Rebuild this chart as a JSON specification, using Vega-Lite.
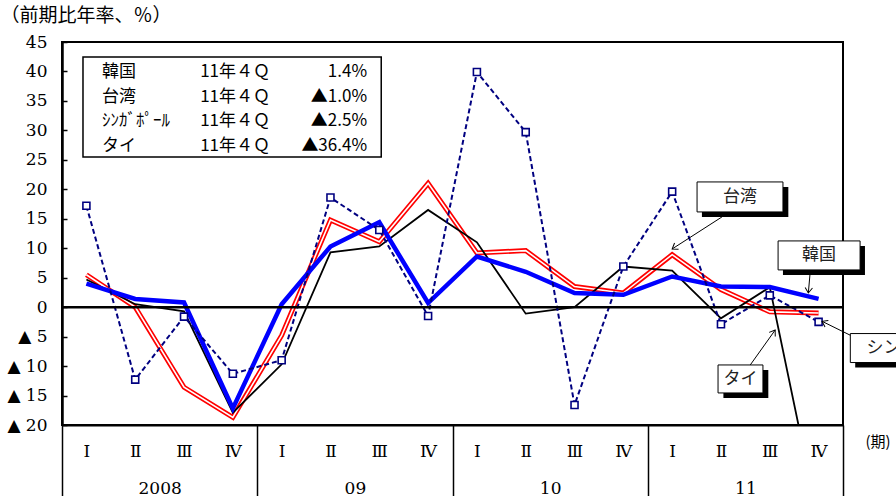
{
  "$schema": "https://vega.github.io/schema/vega-lite/v6.json",
  "width": 781,
  "height": 383,
  "autosize": {"type": "none"},
  "padding": {"left": 62, "top": 42, "right": 53, "bottom": 71},
  "background": "white",
  "datasets": {
    "gdp": [
      {"i":0,"c":"韓国","v":4.0},{"i":1,"c":"韓国","v":1.4},{"i":2,"c":"韓国","v":0.8},{"i":3,"c":"韓国","v":-17.2},
      {"i":4,"c":"韓国","v":0.5},{"i":5,"c":"韓国","v":10.3},{"i":6,"c":"韓国","v":14.4},{"i":7,"c":"韓国","v":0.7},
      {"i":8,"c":"韓国","v":8.6},{"i":9,"c":"韓国","v":6.0},{"i":10,"c":"韓国","v":2.4},{"i":11,"c":"韓国","v":2.1},
      {"i":12,"c":"韓国","v":5.2},{"i":13,"c":"韓国","v":3.5},{"i":14,"c":"韓国","v":3.4},{"i":15,"c":"韓国","v":1.4},
      {"i":0,"c":"台湾","v":5.5},{"i":1,"c":"台湾","v":0.0},{"i":2,"c":"台湾","v":-13.6},{"i":3,"c":"台湾","v":-18.7},
      {"i":4,"c":"台湾","v":-4.8},{"i":5,"c":"台湾","v":14.8},{"i":6,"c":"台湾","v":11.1},{"i":7,"c":"台湾","v":21.0},
      {"i":8,"c":"台湾","v":9.2},{"i":9,"c":"台湾","v":9.6},{"i":10,"c":"台湾","v":3.5},{"i":11,"c":"台湾","v":2.4},
      {"i":12,"c":"台湾","v":8.9},{"i":13,"c":"台湾","v":3.0},{"i":14,"c":"台湾","v":-0.8},{"i":15,"c":"台湾","v":-1.0},
      {"i":0,"c":"シンガポール","v":17.2},{"i":1,"c":"シンガポール","v":-12.3},{"i":2,"c":"シンガポール","v":-1.6},{"i":3,"c":"シンガポール","v":-11.3},
      {"i":4,"c":"シンガポール","v":-9.0},{"i":5,"c":"シンガポール","v":18.6},{"i":6,"c":"シンガポール","v":13.1},{"i":7,"c":"シンガポール","v":-1.5},
      {"i":8,"c":"シンガポール","v":39.9},{"i":9,"c":"シンガポール","v":29.7},{"i":10,"c":"シンガポール","v":-16.6},{"i":11,"c":"シンガポール","v":6.9},
      {"i":12,"c":"シンガポール","v":19.6},{"i":13,"c":"シンガポール","v":-2.9},{"i":14,"c":"シンガポール","v":2.0},{"i":15,"c":"シンガポール","v":-2.5},
      {"i":0,"c":"タイ","v":4.7},{"i":1,"c":"タイ","v":0.5},{"i":2,"c":"タイ","v":-0.7},{"i":3,"c":"タイ","v":-17.9},
      {"i":4,"c":"タイ","v":-9.7},{"i":5,"c":"タイ","v":9.3},{"i":6,"c":"タイ","v":10.3},{"i":7,"c":"タイ","v":16.5},
      {"i":8,"c":"タイ","v":11.0},{"i":9,"c":"タイ","v":-1.1},{"i":10,"c":"タイ","v":0.0},{"i":11,"c":"タイ","v":6.9},
      {"i":12,"c":"タイ","v":6.2},{"i":13,"c":"タイ","v":-1.9},{"i":14,"c":"タイ","v":3.4},{"i":15,"c":"タイ","v":-36.4}
    ]
  },
  "config": {
    "view": {"stroke": "black", "strokeWidth": 2},
    "axis": {"grid": false, "domainColor": "black", "tickColor": "black", "labelColor": "black", "titleColor": "black"},
    "axisX": {"labelFont": "DejaVu Serif", "labelFontSize": 17, "labelOverlap": false, "labelFlush": false, "labelBound": false, "labelBaseline": "middle"},
    "axisY": {"labelFont": "DejaVu Serif", "labelFontSize": 17, "labelOverlap": false, "labelFlush": false, "labelBound": false},
    "text": {"font": "Noto Sans CJK JP", "fontSize": 17, "fill": "black"}
  },
  "resolve": {"axis": {"x": "independent", "y": "independent"}},
  "layer": [
    {
      "data": {"name": "gdp"},
      "encoding": {
        "x": {"field": "i", "type": "quantitative", "scale": {"domain": [-0.5, 15.5], "nice": false, "zero": false},
          "title": "(期)",
          "axis": {
            "values": [-0.5,0,1,1.5,2,3,3.5,4,5,5.5,6,7,7.5,8,9,9.5,10,11,11.5,12,13,13.5,14,15,15.5],
            "labelExpr": "(datum.value + 0.5) % 4 == 0 ? '' : (datum.value % 1 != 0 ? ['2008','09','10','11'][floor(datum.value / 4)] : ['Ⅰ','Ⅱ','Ⅲ','Ⅳ'][datum.value % 4])",
            "labelOverlap": false, "labelFlush": false, "labelBound": false,
            "tickSize": 71, "tickWidth": 1.5,
            "tickOpacity": {"condition": {"test": "(datum.value + 0.5) % 4 == 0", "value": 1}, "value": 0},
            "labelPadding": {"condition": {"test": "datum.value % 1 == 0", "value": -45}, "value": -8},
            "labelBaseline": "middle", "labelFont": "DejaVu Serif", "labelFontSize": 17,
            "domainWidth": 2,
            "titleX": 803, "titleY": 16, "titleAlign": "left", "titleBaseline": "middle", "titleAngle": 0,
            "titleFont": "Noto Sans CJK JP", "titleFontSize": 15, "titleFontWeight": "normal"
          }},
        "y": {"field": "v", "type": "quantitative", "scale": {"domain": [-20, 45], "nice": false, "zero": false},
          "title": "（前期比年率、％）",
          "axis": {
            "values": [-20,-15,-10,-5,0,5,10,15,20,25,30,35,40,45],
            "labelExpr": "datum.value < 0 ? '▲ ' + (-datum.value) : '' + datum.value",
            "labelFont": "DejaVu Serif", "labelFontSize": 17, "labelOverlap": false,
            "tickSize": -5, "tickWidth": 1.5, "domainWidth": 2.5, "labelPadding": 20,
            "titleAngle": 0, "titleAlign": "left", "titleBaseline": "middle", "titleX": -62, "titleY": -27,
            "titleFont": "Noto Sans CJK JP", "titleFontSize": 19, "titleFontWeight": "normal"
          }}
      },
      "layer": [
        {"transform": [{"filter": "datum.c == '台湾'"}], "mark": {"type": "line", "color": "#ff0000", "strokeWidth": 5}},
        {"transform": [{"filter": "datum.c == '台湾'"}], "mark": {"type": "line", "color": "white", "strokeWidth": 1.6}},
        {"transform": [{"filter": "datum.c == 'タイ'"}], "mark": {"type": "line", "color": "black", "strokeWidth": 1.8, "clip": true}},
        {"transform": [{"filter": "datum.c == '韓国'"}], "mark": {"type": "line", "color": "#0000ff", "strokeWidth": 4.5}},
        {"transform": [{"filter": "datum.c == 'シンガポール'"}], "mark": {"type": "line", "color": "#000080", "strokeWidth": 2, "strokeDash": [5, 3]}},
        {"transform": [{"filter": "datum.c == 'シンガポール'"}], "mark": {"type": "point", "shape": "square", "size": 49, "filled": true, "fill": "white", "stroke": "#000080", "strokeWidth": 1.6, "opacity": 1}}
      ]
    },
    {
      "data": {"values": [{}]},
      "layer": [
        {
          "mark": {"type": "rule", "color": "black", "strokeWidth": 2.5},
          "encoding": {"y": {"datum": 0, "axis": null}}
        },
        {
          "mark": {"type": "rect", "fill": "white", "stroke": "black", "strokeWidth": 1.5},
          "encoding": {"x": {"datum": -0.07, "axis": null}, "x2": {"datum": 6.04}, "y": {"datum": 42.46, "axis": null}, "y2": {"datum": 25.5}}
        },
        {
          "mark": {"type": "text", "align": "left", "baseline": "middle", "lineHeight": 24.7, "lineBreak": "\n", "text": "韓国\n台湾\nｼﾝｶﾞﾎﾟｰﾙ\nタイ"},
          "encoding": {"x": {"datum": 0.32, "axis": null}, "y": {"datum": 39.92, "axis": null}}
        },
        {
          "mark": {"type": "text", "align": "left", "baseline": "middle", "lineHeight": 24.7, "lineBreak": "\n", "text": "11年４Ｑ\n11年４Ｑ\n11年４Ｑ\n11年４Ｑ"},
          "encoding": {"x": {"datum": 2.33, "axis": null}, "y": {"datum": 39.92, "axis": null}}
        },
        {
          "mark": {"type": "text", "align": "right", "baseline": "middle", "lineHeight": 24.7, "lineBreak": "\n", "text": "1.4%\n▲1.0%\n▲2.5%\n▲36.4%"},
          "encoding": {"x": {"datum": 5.75, "axis": null}, "y": {"datum": 39.92, "axis": null}}
        },
        {
          "mark": {"type": "rect", "fill": "black"},
          "encoding": {"x": {"datum": 12.61, "axis": null}, "x2": {"datum": 14.38}, "y": {"datum": 20.41, "axis": null}, "y2": {"datum": 15.31}}
        },
        {
          "mark": {"type": "rect", "fill": "white", "stroke": "black", "strokeWidth": 1},
          "encoding": {"x": {"datum": 12.51, "axis": null}, "x2": {"datum": 14.27}, "y": {"datum": 21.25, "axis": null}, "y2": {"datum": 16.16}}
        },
        {
          "mark": {"type": "text", "text": "台湾", "align": "center", "baseline": "middle", "fill": "#222"},
          "encoding": {"x": {"datum": 13.39, "axis": null}, "y": {"datum": 18.7, "axis": null}}
        },
        {
          "mark": {"type": "rule", "color": "black", "strokeWidth": 1},
          "encoding": {"x": {"datum": 13.02, "axis": null}, "y": {"datum": 15.31, "axis": null}, "x2": {"datum": 12.0}, "y2": {"datum": 9.88}}
        },
        {
          "mark": {"type": "point", "shape": "M-1,-0.7L0,0L-1,0.7", "size": 110, "filled": false, "stroke": "black", "strokeWidth": 1, "angle": 147, "opacity": 1},
          "encoding": {"x": {"datum": 12.0, "axis": null}, "y": {"datum": 9.88, "axis": null}}
        },
        {
          "mark": {"type": "rect", "fill": "black"},
          "encoding": {"x": {"datum": 14.27, "axis": null}, "x2": {"datum": 15.95}, "y": {"datum": 10.39, "axis": null}, "y2": {"datum": 5.47}}
        },
        {
          "mark": {"type": "rect", "fill": "white", "stroke": "black", "strokeWidth": 1},
          "encoding": {"x": {"datum": 14.17, "axis": null}, "x2": {"datum": 15.85}, "y": {"datum": 11.24, "axis": null}, "y2": {"datum": 6.32}}
        },
        {
          "mark": {"type": "text", "text": "韓国", "align": "center", "baseline": "middle", "fill": "#222"},
          "encoding": {"x": {"datum": 15.01, "axis": null}, "y": {"datum": 8.78, "axis": null}}
        },
        {
          "mark": {"type": "rule", "color": "black", "strokeWidth": 1},
          "encoding": {"x": {"datum": 14.83, "axis": null}, "y": {"datum": 6.15, "axis": null}, "x2": {"datum": 14.79}, "y2": {"datum": 2.41}}
        },
        {
          "mark": {"type": "point", "shape": "M-1,-0.7L0,0L-1,0.7", "size": 110, "filled": false, "stroke": "black", "strokeWidth": 1, "angle": 95, "opacity": 1},
          "encoding": {"x": {"datum": 14.79, "axis": null}, "y": {"datum": 2.41, "axis": null}}
        },
        {
          "mark": {"type": "rect", "fill": "black"},
          "encoding": {"x": {"datum": 13.05, "axis": null}, "x2": {"datum": 13.97}, "y": {"datum": -10.66, "axis": null}, "y2": {"datum": -15.41}}
        },
        {
          "mark": {"type": "rect", "fill": "white", "stroke": "black", "strokeWidth": 1},
          "encoding": {"x": {"datum": 12.94, "axis": null}, "x2": {"datum": 13.86}, "y": {"datum": -9.81, "axis": null}, "y2": {"datum": -14.56}}
        },
        {
          "mark": {"type": "text", "text": "タイ", "align": "center", "baseline": "middle", "fill": "#222"},
          "encoding": {"x": {"datum": 13.4, "axis": null}, "y": {"datum": -12.2, "axis": null}}
        },
        {
          "mark": {"type": "rule", "color": "black", "strokeWidth": 1},
          "encoding": {"x": {"datum": 13.6, "axis": null}, "y": {"datum": -9.81, "axis": null}, "x2": {"datum": 14.11}, "y2": {"datum": -3.89}}
        },
        {
          "mark": {"type": "point", "shape": "M-1,-0.7L0,0L-1,0.7", "size": 110, "filled": false, "stroke": "black", "strokeWidth": 1, "angle": -56, "opacity": 1},
          "encoding": {"x": {"datum": 14.11, "axis": null}, "y": {"datum": -3.89, "axis": null}}
        },
        {
          "mark": {"type": "rect", "fill": "black"},
          "encoding": {"x": {"datum": 15.75, "axis": null}, "x2": {"datum": 18.6}, "y": {"datum": -5.33, "axis": null}, "y2": {"datum": -10.25}}
        },
        {
          "mark": {"type": "rect", "fill": "white", "stroke": "black", "strokeWidth": 1},
          "encoding": {"x": {"datum": 15.65, "axis": null}, "x2": {"datum": 18.5}, "y": {"datum": -4.48, "axis": null}, "y2": {"datum": -9.4}}
        },
        {
          "mark": {"type": "text", "text": "シンガポール", "align": "left", "baseline": "middle", "fill": "#222"},
          "encoding": {"x": {"datum": 15.98, "axis": null}, "y": {"datum": -6.95, "axis": null}}
        },
        {
          "mark": {"type": "rule", "color": "black", "strokeWidth": 1},
          "encoding": {"x": {"datum": 15.65, "axis": null}, "y": {"datum": -4.77, "axis": null}, "x2": {"datum": 15.07}, "y2": {"datum": -2.4}}
        },
        {
          "mark": {"type": "point", "shape": "M-1,-0.7L0,0L-1,0.7", "size": 110, "filled": false, "stroke": "black", "strokeWidth": 1, "angle": -153, "opacity": 1},
          "encoding": {"x": {"datum": 15.07, "axis": null}, "y": {"datum": -2.4, "axis": null}}
        }
      ]
    }
  ]
}
